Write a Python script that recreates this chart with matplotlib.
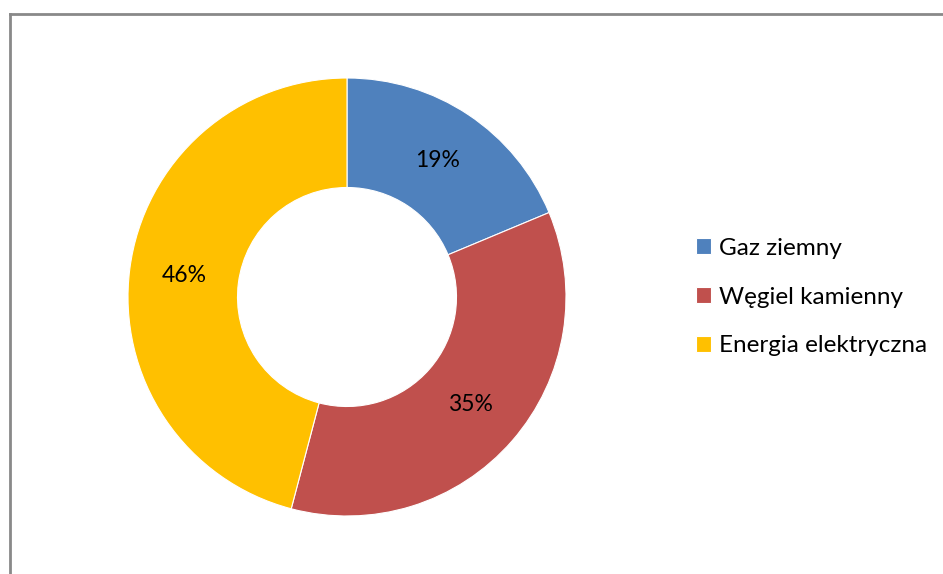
import matplotlib
matplotlib.use('Agg')
import matplotlib.pyplot as plt
from matplotlib.lines import Line2D

# dane (udział w %)
labels = ['Gaz ziemny', 'Węgiel kamienny', 'Energia elektryczna']
values = [18.7, 35.4, 45.9]
colors = ['#4F81BD', '#C0504D', '#FFC000']

plt.rcParams['font.family'] = ['Lato', 'DejaVu Sans']

W, H = 943, 574
fig = plt.figure(figsize=(W / 100, H / 100), dpi=100)

# ramka obszaru wykresu (ucięta z prawej i od dołu)
border = '#898989'
fig.add_artist(Line2D([9.5 / W, 1.0], [1 - 13.5 / H, 1 - 13.5 / H], color=border, lw=2.0))
fig.add_artist(Line2D([9.5 / W, 9.5 / W], [0.0, 1 - 13.5 / H], color=border, lw=2.0))

cx, cy, r = 347, 297, 219
ax = fig.add_axes([(cx - r) / W, (H - cy - r) / H, 2 * r / W, 2 * r / H])
wedges, texts, autotexts = ax.pie(
    values, colors=colors, startangle=90, counterclock=False,
    radius=1.0, autopct='%1.0f%%', pctdistance=0.75,
    wedgeprops=dict(width=0.5, edgecolor='white', linewidth=0.8),
    textprops=dict(fontsize=16.5, color='black'))
ax.set_xlim(-1, 1)
ax.set_ylim(-1, 1)
ax.set_aspect('equal')
ax.axis('off')

fig.legend(wedges, labels, loc='center left', bbox_to_anchor=(696 / W, 1 - 297 / H),
           frameon=False, fontsize=17.5, handlelength=0.6, handleheight=0.6,
           handletextpad=0.35, labelspacing=1.15, borderaxespad=0, borderpad=0)

plt.savefig('out.png', dpi=100)
